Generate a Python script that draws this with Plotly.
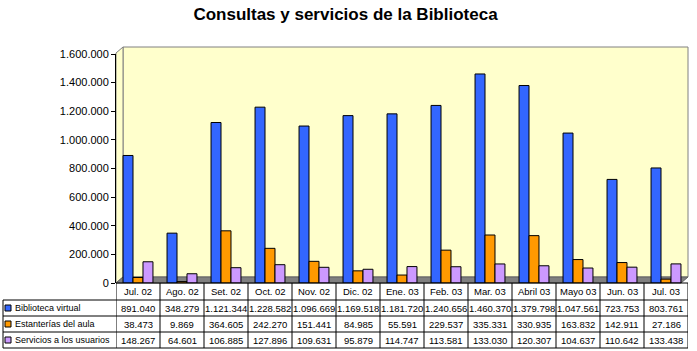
import plotly.graph_objects as go

W, H = 697, 351

meses = ["Jul. 02", "Ago. 02", "Set. 02", "Oct. 02", "Nov. 02", "Dic. 02", "Ene. 03",
         "Feb. 03", "Mar. 03", "Abril 03", "Mayo 03", "Jun. 03", "Jul. 03"]
biblioteca_virtual = [891040, 348279, 1121344, 1228582, 1096669, 1169518, 1181720,
                      1240656, 1460370, 1379798, 1047561, 723753, 803761]
estanterias_aula = [38473, 9869, 364605, 242270, 151441, 84985, 55591,
                    229537, 335331, 330935, 163832, 142911, 27186]
servicios_usuarios = [148267, 64601, 106885, 127896, 109631, 95879, 114747,
                      113581, 133030, 120307, 104637, 110642, 133438]
series_names = ["Biblioteca virtual", "Estanterías del aula", "Servicios a los usuarios"]

COL_BLUE = "#3366FF"
COL_ORANGE = "#FF9900"
COL_PURPLE = "#CC99FF"
WALL = "#FFFFCC"
FLOOR = "#808080"
FONT = "Liberation Sans"

# pixel geometry
M_L, M_R, M_T, M_B = 3, 9, 54, 3
PW = W - M_L - M_R
PH = H - M_T - M_B
AXIS_X = 116       # y axis line
AXIS_BOTTOM = 283  # value 0
RIGHT = 688
DEPTH_X, DEPTH_Y = 7, 6


def px(x):
    return (x - M_L) / PW


def py(y):
    return (H - M_B - y) / PH


def fmt(v):
    return f"{v:,}".replace(",", ".")


fig = go.Figure()
colors = [COL_BLUE, COL_ORANGE, COL_PURPLE]
all_series = [biblioteca_virtual, estanterias_aula, servicios_usuarios]
for name, vals, c in zip(series_names, all_series, colors):
    fig.add_trace(go.Bar(x=meses, y=vals, name=name,
                         marker=dict(color=c, line=dict(color="black", width=1))))

# back wall, left wall and floor
wx0, wy0 = AXIS_X + DEPTH_X, 47
wy1 = AXIS_BOTTOM - DEPTH_Y
fig.add_shape(type="rect", xref="paper", yref="paper", x0=px(wx0), x1=px(RIGHT), y0=py(wy1), y1=py(wy0),
              fillcolor=WALL, line=dict(color="#808080", width=1), layer="below")
fig.add_shape(type="path", xref="paper", yref="paper", layer="below",
              path=f"M {px(AXIS_X)},{py(AXIS_BOTTOM)} L {px(AXIS_X)},{py(wy0 + DEPTH_Y)} "
                   f"L {px(wx0)},{py(wy0)} L {px(wx0)},{py(wy1)} Z",
              fillcolor=WALL, line=dict(color="#808080", width=1))
fig.add_shape(type="path", xref="paper", yref="paper", layer="below",
              path=f"M {px(AXIS_X)},{py(AXIS_BOTTOM)} L {px(wx0)},{py(wy1)} L {px(RIGHT)},{py(wy1)} "
                   f"L {px(RIGHT - DEPTH_X)},{py(AXIS_BOTTOM)} Z",
              fillcolor=FLOOR, line=dict(color="#606060", width=1))

# data table under the axis
line = dict(color="black", width=1)
row_tops = [283, 300, 316, 332, 348]
# horizontal borders
fig.add_shape(type="line", xref="paper", yref="paper", x0=px(AXIS_X), x1=px(RIGHT),
              y0=py(row_tops[0]), y1=py(row_tops[0]), line=line)
for yb in row_tops[1:]:
    fig.add_shape(type="line", xref="paper", yref="paper", x0=px(M_L), x1=px(RIGHT),
                  y0=py(yb), y1=py(yb), line=line)
# vertical borders
fig.add_shape(type="line", xref="paper", yref="paper", x0=px(M_L), x1=px(M_L),
              y0=py(row_tops[1]), y1=py(row_tops[-1]), line=line)
for i in range(len(meses) + 1):
    fig.add_shape(type="line", xref="x", yref="paper", x0=i - 0.5, x1=i - 0.5,
                  y0=py(row_tops[0]), y1=py(row_tops[-1]), line=line)

tfont = dict(family=FONT, size=9.5, color="black")
for m in meses:
    fig.add_annotation(x=m, xref="x", y=py((row_tops[0] + row_tops[1]) / 2), yref="paper",
                       text=m, showarrow=False, font=tfont, xanchor="center", yanchor="middle")
for r, (name, vals, c) in enumerate(zip(series_names, all_series, colors)):
    yc = (row_tops[r + 1] + row_tops[r + 2]) / 2
    fig.add_shape(type="rect", xref="paper", yref="paper", x0=px(5), x1=px(11),
                  y0=py(yc + 3), y1=py(yc - 3), fillcolor=c, line=dict(color="black", width=1))
    fig.add_annotation(x=px(13), xref="paper", y=py(yc), yref="paper", text=name,
                       showarrow=False, font=dict(family=FONT, size=9, color="black"),
                       xanchor="left", yanchor="middle")
    for m, v in zip(meses, vals):
        fig.add_annotation(x=m, xref="x", y=py(yc), yref="paper", text=fmt(v),
                           showarrow=False, font=tfont, xanchor="center", yanchor="middle")

fig.update_layout(
    width=W, height=H,
    margin=dict(l=M_L, r=M_R, t=M_T, b=M_B, autoexpand=False),
    paper_bgcolor="white",
    plot_bgcolor="rgba(0,0,0,0)",
    separators=",.",
    showlegend=False,
    barmode="group",
    bargap=0.32,
    bargroupgap=0,
    font=dict(family=FONT, size=11, color="black"),
    title=dict(text="<b>Consultas y servicios de la Biblioteca</b>", x=0.5, xref="paper",
               xanchor="center", y=1 - 14 / H, yanchor="middle",
               font=dict(family=FONT, size=17, color="black")),
    xaxis=dict(domain=[px(AXIS_X), 1], range=[-0.5, len(meses) - 0.5], showticklabels=False,
               showgrid=False, zeroline=False, showline=False, ticks="", automargin=False),
    yaxis=dict(domain=[py(AXIS_BOTTOM), py(54)], range=[0, 1600000], dtick=200000,
               tickformat=",d", showgrid=False, zeroline=False, showline=True,
               linecolor="black", linewidth=1, ticks="outside", ticklen=4, tickcolor="black",
               tickfont=dict(family=FONT, size=11, color="black"), automargin=False),
)

# page body has a default 8px margin; remove it so the figure sits at the window origin
fig.write_html("out.html", config={"displayModeBar": False},
               post_script="document.body.style.margin='0';")
